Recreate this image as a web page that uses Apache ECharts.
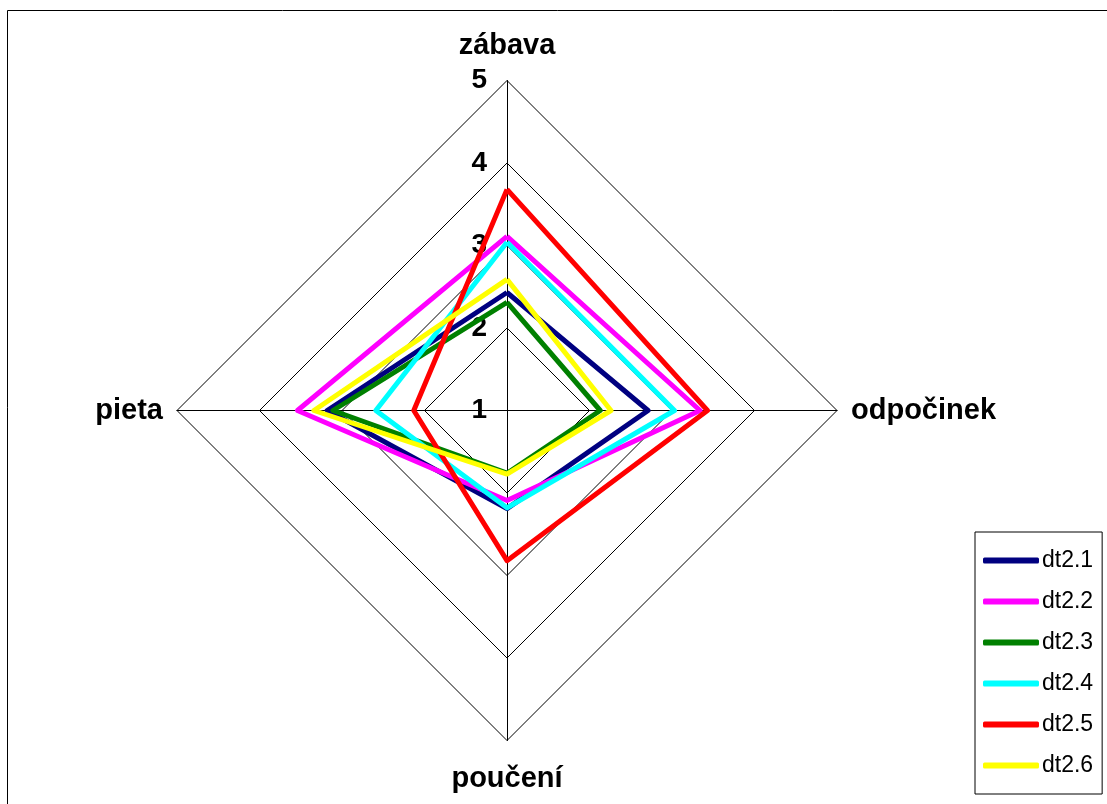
<!DOCTYPE html>
<html>
<head>
<meta charset="utf-8">
<script src="https://cdn.jsdelivr.net/npm/echarts@6/dist/echarts.min.js"></script>
<style>
	html, body { margin: 0; padding: 0; background: #fff; }
	#main { width: 1107px; height: 804px; }
</style>
</head>
<body>
<div id="main"></div>
<script>
	// indicator order as echarts lays it out (top, then counter-clockwise)
	var categories = ['zábava', 'pieta', 'poučení', 'odpočinek'];
	var seriesNames = ['dt2.1', 'dt2.2', 'dt2.3', 'dt2.4', 'dt2.5', 'dt2.6'];
	var seriesColors = ['#000080', '#ff00ff', '#008000', '#00ffff', '#ff0000', '#ffff00'];
	var dt21 = [2.43, 3.18, 2.19, 2.71];
	var dt22 = [3.11, 3.54, 2.09, 3.34];
	var dt23 = [2.31, 3.11, 1.76, 2.13];
	var dt24 = [3.04, 2.59, 2.18, 3.03];
	var dt25 = [3.68, 2.13, 2.82, 3.43];
	var dt26 = [2.59, 3.34, 1.77, 2.26];
	var seriesValues = [dt21, dt22, dt23, dt24, dt25, dt26];
	var axisMin = 1, axisMax = 5;

	var font = '"Liberation Sans", Arial, sans-serif';
	// which rich style each indicator name uses (extra room above/below)
	var namePlace = ['top', 'side', 'bottom', 'side'];

	var indicator = categories.map(function(name, i){
		var item = { name: name, min: axisMin, max: axisMax };
		if(i == 0){
			item.axisLabel = {
				show: true,
				color: '#000',
				fontSize: 28,
				fontWeight: 'bold',
				fontFamily: font,
				margin: 20
			};
		}
		return item;
	});

	var series = seriesNames.map(function(name, i){
		return {
			type: 'radar',
			name: name,
			symbol: 'none',
			silent: true,
			lineStyle: { color: seriesColors[i], width: 5, opacity: 1 },
			itemStyle: { color: seriesColors[i] },
			data: [{ name: name, value: seriesValues[i] }]
		};
	});

	var nameStyle = { color: '#000', fontSize: 29, fontWeight: 'bold', fontFamily: font };

	var myChart = echarts.init(document.getElementById('main'));
	myChart.setOption({
		animation: false,
		backgroundColor: '#fff',
		graphic: [{
			type: 'rect',
			shape: { x: 7.5, y: 10.5, width: 1200, height: 900 },
			style: { fill: 'none', stroke: '#000', lineWidth: 1 },
			silent: true
		}],
		legend: {
			orient: 'vertical',
			left: 975,
			top: 532,
			padding: [17, 9, 17, 8],
			itemGap: 18,
			itemWidth: 56,
			itemHeight: 6,
			icon: 'roundRect',
			borderColor: '#000',
			borderWidth: 1,
			selectedMode: false,
			data: seriesNames,
			textStyle: { color: '#000', fontSize: 23, fontFamily: font, padding: [0, 0, 0, -2] }
		},
		radar: {
			center: [507, 410.5],
			radius: 330,
			shape: 'polygon',
			splitNumber: 4,
			startAngle: 90,
			nameGap: 14,
			axisName: {
				color: '#000',
				fontSize: 29,
				fontWeight: 'bold',
				fontFamily: font,
				formatter: function(name){
					var i = categories.indexOf(name);
					return '{' + namePlace[i] + '|' + name + '}';
				},
				rich: {
					top: echarts.util.extend({ padding: [0, 0, 6, 0] }, nameStyle),
					side: echarts.util.extend({ padding: [0, 0, 0, 0] }, nameStyle),
					bottom: echarts.util.extend({ padding: [10, 0, 0, 0] }, nameStyle)
				}
			},
			axisLine: { lineStyle: { color: '#000', width: 1 } },
			splitLine: { lineStyle: { color: '#000', width: 1 } },
			splitArea: { show: false },
			axisTick: { show: false },
			axisLabel: { show: false },
			indicator: indicator
		},
		series: series
	});
</script>
</body>
</html>
